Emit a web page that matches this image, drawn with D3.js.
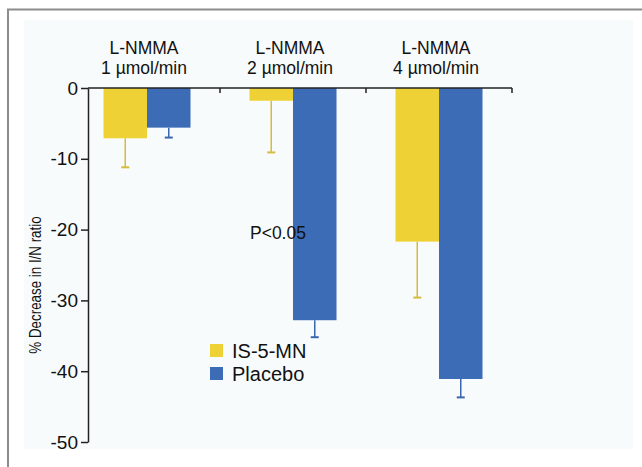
<!DOCTYPE html>
<html>
<head>
<meta charset="utf-8">
<script src="https://cdn.jsdelivr.net/npm/d3@7"></script>
<style>
  body { margin: 0; background: #fff; }
  svg text { font-family: "Liberation Sans", Arial, Helvetica, sans-serif; fill: #111; }
</style>
</head>
<body>
<div id="chart"></div>
<script>
// data
const categories = ['1', '2', '4'];
const categoryLines = [['L-NMMA', '1 µmol/min'], ['L-NMMA', '2 µmol/min'], ['L-NMMA', '4 µmol/min']];
const series = ['IS-5-MN', 'Placebo'];
const isValues = [-7.1, -1.8, -21.7];
const isErrors = [4.1, 7.3, 7.9];
const placeboValues = [-5.6, -32.8, -41.1];
const placeboErrors = [1.4, 2.4, 2.6];
const yTicks = [0, -10, -20, -30, -40, -50];

const colors = { 'IS-5-MN': '#eed235', 'Placebo': '#3d6cb7' };
const errColors = { 'IS-5-MN': '#d6bb3c', 'Placebo': '#3a66ad' };

const width = 642, height = 467;
const axisX = 88;

const svg = d3.select('#chart').append('svg')
    .attr('width', width)
    .attr('height', height);

// frame + faint plot panel
svg.append('rect')
    .attr('x', 24).attr('y', 20)
    .attr('width', 609).attr('height', 429)
    .attr('fill', '#f8fbfb');
svg.append('path')
    .attr('d', `M8,${height} L8,9.5 L${width},9.5`)
    .attr('fill', 'none')
    .attr('stroke', '#8c8c8c')
    .attr('stroke-width', 2);

// scales
const x0 = d3.scaleBand().domain(categories).range([74, 512]);
const x1 = d3.scaleBand().domain(series).range([0, x0.bandwidth()]).paddingOuter(0.678);
const y = d3.scaleLinear().domain([0, -50]).range([88, 442]);

const rows = categories.map((c, i) => ({
    cat: c,
    values: [
        { s: 'IS-5-MN', v: isValues[i], e: isErrors[i] },
        { s: 'Placebo', v: placeboValues[i], e: placeboErrors[i] }
    ]
}));

// bars
const groups = svg.append('g')
    .selectAll('g')
    .data(rows)
    .enter()
    .append('g')
    .attr('transform', d => `translate(${x0(d.cat)},0)`);

// error bars (drawn first, bars cover the top)
groups.selectAll('line.err')
    .data(d => d.values)
    .enter()
    .append('line')
    .attr('class', 'err')
    .attr('x1', d => x1(d.s) + x1.bandwidth() / 2)
    .attr('x2', d => x1(d.s) + x1.bandwidth() / 2)
    .attr('y1', d => y(d.v))
    .attr('y2', d => y(d.v - d.e))
    .attr('stroke', d => errColors[d.s])
    .attr('stroke-width', 1.5);

groups.selectAll('line.cap')
    .data(d => d.values)
    .enter()
    .append('line')
    .attr('class', 'cap')
    .attr('x1', d => x1(d.s) + x1.bandwidth() / 2 - 4)
    .attr('x2', d => x1(d.s) + x1.bandwidth() / 2 + 4)
    .attr('y1', d => y(d.v - d.e))
    .attr('y2', d => y(d.v - d.e))
    .attr('stroke', d => errColors[d.s])
    .attr('stroke-width', 2);

groups.selectAll('rect')
    .data(d => d.values)
    .enter()
    .append('rect')
    .attr('x', d => x1(d.s))
    .attr('y', y(0))
    .attr('width', x1.bandwidth())
    .attr('height', d => y(d.v) - y(0))
    .attr('fill', d => colors[d.s]);

// y axis
const yAxis = svg.append('g')
    .attr('transform', `translate(${axisX},0)`)
    .call(d3.axisLeft(y).tickValues(yTicks).tickSize(7).tickSizeOuter(0).tickFormat(d => String(d)));
yAxis.select('.domain').attr('stroke', '#222').attr('stroke-width', 1.5);
yAxis.selectAll('.tick line').attr('stroke', '#222').attr('stroke-width', 1.5);
yAxis.selectAll('.tick text')
    .attr('x', -10)
    .style('font-size', '19px')
    .style('font-family', '"Liberation Sans", Arial, sans-serif')
    .attr('fill', '#111');

// x axis line at 0, ticks at band edges pointing down
svg.append('line')
    .attr('x1', axisX).attr('x2', x0.range()[1])
    .attr('y1', y(0)).attr('y2', y(0))
    .attr('stroke', '#222').attr('stroke-width', 1.5);
svg.append('g')
    .selectAll('line')
    .data(categories)
    .enter()
    .append('line')
    .attr('x1', d => x0(d) + x0.bandwidth())
    .attr('x2', d => x0(d) + x0.bandwidth())
    .attr('y1', y(0))
    .attr('y2', y(0) + 5)
    .attr('stroke', '#222').attr('stroke-width', 1.5);

// category labels
const catLabels = svg.append('g')
    .selectAll('text')
    .data(categories)
    .enter()
    .append('text')
    .attr('text-anchor', 'middle')
    .style('font-size', '17.5px');
catLabels.each(function(d, i) {
    const t = d3.select(this);
    const cx = x0(d) + x0.bandwidth() / 2 - 3;
    categoryLines[i].forEach((line, k) => {
        t.append('tspan').attr('x', cx).attr('y', 54 + k * 20).text(line);
    });
});

// y title (slightly condensed like the original)
svg.append('text')
    .attr('transform', 'translate(41,285) rotate(-90) scale(0.81,1)')
    .attr('text-anchor', 'middle')
    .style('font-size', '16.5px')
    .text('% Decrease in I/N ratio');

// significance
svg.append('text')
    .attr('x', 250).attr('y', 239)
    .style('font-size', '17.5px')
    .text('P<0.05');

// legend
const legend = svg.append('g')
    .selectAll('g')
    .data(series)
    .enter()
    .append('g')
    .attr('transform', (d, i) => `translate(210,${344 + i * 23})`);
legend.append('rect')
    .attr('width', 13).attr('height', 13)
    .attr('fill', d => colors[d]);
legend.append('text')
    .attr('x', 22).attr('y', 14)
    .style('font-size', '20px')
    .text(d => d);
</script>
</body>
</html>
